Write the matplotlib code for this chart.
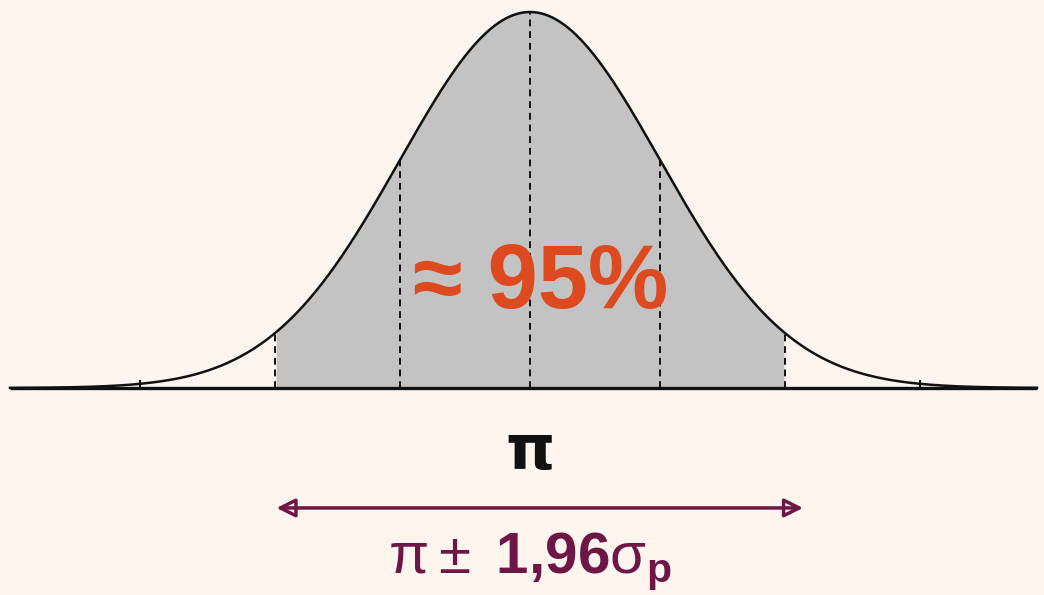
import numpy as np
import matplotlib
matplotlib.use("Agg")
import matplotlib.pyplot as plt

plt.rcParams["mathtext.fontset"] = "custom"
plt.rcParams["mathtext.rm"] = "Liberation Sans"
plt.rcParams["mathtext.bf"] = "Liberation Sans:bold"
plt.rcParams["mathtext.it"] = "Liberation Sans:italic"

# Standard normal curve, x in units of sigma around the mean pi
z_lo, z_hi = -4.0, 3.9
band = 1.96                      # half-width of the 95 % interval
guide_z = [-1.96, -1.0, 0.0, 1.0, 1.96]   # dashed verticals
tick_z = [-3.0, 3.0]                      # small ticks on the axis
coverage_label = "≈ 95%"
center_label = "π"

bg = "#FDF5EE"
shade = "#C3C3C3"
red = "#DE4A1F"
maroon = "#6E1645"

def density(z):
    # normalised so the peak equals 1
    return np.exp(-0.5 * np.asarray(z) ** 2)

fig = plt.figure(figsize=(10.44, 5.95), dpi=100, facecolor=bg)
ax = fig.add_axes([0, 0, 1, 1])
ax.set_facecolor(bg)
ax.set_xlim(-530 / 130, 514 / 130)
ax.set_ylim(-207 / 376, 1 + 12 / 376)
ax.axis("off")

z = np.linspace(z_lo, z_hi, 800)
ax.fill_between(z, 0, density(z), where=(z >= -band) & (z <= band),
                color=shade, lw=0, zorder=1)
ax.plot(z, density(z), color="#111111", lw=1.8, zorder=3)
ax.plot([z_lo, z_hi], [0, 0], color="#111111", lw=2.4, zorder=3,
        solid_capstyle="butt")

for g in guide_z:
    ax.plot([g, g], [0, density(g)], color="#111111", lw=1.4,
            ls=(0, (3.5, 2.5)), zorder=2)
for t in tick_z:
    ax.plot([t, t], [0, 0.018], color="#111111", lw=1.5, zorder=3)

ax.text(0.08, 0.275, coverage_label, color=red, fontsize=65,
        fontweight="bold", family="Liberation Sans",
        ha="center", va="center", zorder=4)

ax.text(0.0, -0.17, center_label, color="#111111", fontsize=45,
        fontweight="bold", family="DejaVu Sans",
        ha="center", va="center")

ax.annotate("", xy=(-1.95, -0.319), xytext=(2.1, -0.319),
            arrowprops=dict(arrowstyle="<|-|>", color=maroon, lw=2.5,
                            mutation_scale=28, shrinkA=0, shrinkB=0,
                            fill=False))

ax.text(0.0, -0.46,
        r"$\mathregular{\pi \pm\ }\mathbf{1{,}96}\mathregular{\sigma_{\mathbf{p}}}$",
        color=maroon, fontsize=42, ha="center", va="center",
        family="Liberation Sans")

fig.savefig("out.png", dpi=100, facecolor=bg)
